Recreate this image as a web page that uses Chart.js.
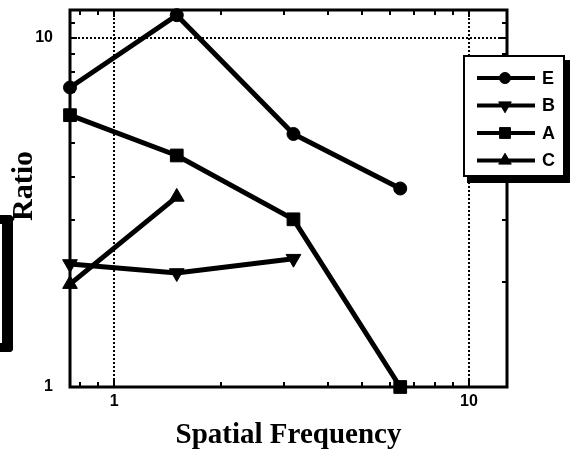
<!DOCTYPE html>
<html>
<head>
<meta charset="utf-8">
<script src="https://cdn.jsdelivr.net/npm/chart.js@4.4.0/dist/chart.umd.min.js"></script>
<style>
  html, body { margin: 0; padding: 0; background: #fff; }
  #wrap { position: relative; width: 572px; height: 453px; }
  /* black bracket mark on the left edge of the scan */
  #scanMark {
    position: absolute; left: 0; top: 215px; width: 2px; height: 119px;
    border: solid #000; border-width: 9px 11px 9px 0; border-radius: 0 4px 4px 0;
  }
</style>
</head>
<body>
<div id="wrap">
  <canvas id="ratioChart" width="572" height="453"></canvas>
  <div id="scanMark"></div>
</div>
<script>
// data (log-log axes)
const frequencies = [0.75, 1.5, 3.2, 6.4];
const seriesE = [7.2, 11.6, 5.3, 3.7];
const seriesB = [2.25, 2.12, 2.33, null];
const seriesA = [6.0, 4.6, 3.02, 1.0];
const seriesC = [1.97, 3.5, null, null];

const xLabelTicks = [1, 10];
const yLabelTicks = [1, 10];
const xMinorTicks = [0.8, 0.9, 1, 2, 3, 4, 5, 6, 7, 8, 9, 10];
const yMinorTicks = [2, 3, 4, 5, 6, 7, 8, 9, 10, 11];
const xGridLines = [1, 10];
const yGridLines = [10];

function toPoints(values) {
    const pts = [];
    values.forEach((v, i) => { if (v !== null) pts.push({ x: frequencies[i], y: v }); });
    return pts;
}

function makeSet(label, values, pointStyle, radius, rotation) {
    return {
        label: label,
        data: toPoints(values),
        borderColor: '#000',
        backgroundColor: '#000',
        borderWidth: 5,
        pointStyle: pointStyle,
        pointRadius: radius,
        pointRotation: rotation || 0,
        pointBorderWidth: 1,
        tension: 0,
        clip: false
    };
}

// frame, inward ticks and dotted grid lines
const framePlugin = {
    id: 'frame',
    beforeDatasetsDraw(chart) {
        const { ctx, chartArea: a, scales: { x, y } } = chart;
        ctx.save();
        ctx.strokeStyle = '#000';
        ctx.lineWidth = 2;
        ctx.setLineDash([2, 2]);
        ctx.beginPath();
        xGridLines.forEach(v => {
            const px = Math.round(x.getPixelForValue(v));
            ctx.moveTo(px, a.top); ctx.lineTo(px, a.bottom);
        });
        yGridLines.forEach(v => {
            const py = Math.round(y.getPixelForValue(v));
            ctx.moveTo(a.left, py); ctx.lineTo(a.right, py);
        });
        ctx.stroke();
        ctx.setLineDash([]);

        ctx.beginPath();
        xMinorTicks.forEach(v => {
            const px = Math.round(x.getPixelForValue(v));
            const len = xLabelTicks.includes(v) ? 7 : 5;
            ctx.moveTo(px, a.bottom); ctx.lineTo(px, a.bottom - len);
            ctx.moveTo(px, a.top); ctx.lineTo(px, a.top + len);
        });
        yMinorTicks.forEach(v => {
            const py = Math.round(y.getPixelForValue(v));
            const len = yLabelTicks.includes(v) ? 7 : 5;
            ctx.moveTo(a.left, py); ctx.lineTo(a.left + len, py);
            ctx.moveTo(a.right, py); ctx.lineTo(a.right - len, py);
        });
        ctx.stroke();

        ctx.lineWidth = 3;
        ctx.strokeRect(a.left, a.top, a.width, a.height);
        ctx.restore();
    }
};

// boxed legend with drop shadow, and the rotated y title
const legendPlugin = {
    id: 'boxLegend',
    afterDraw(chart) {
        const ctx = chart.ctx;
        ctx.save();
        ctx.fillStyle = '#000';
        ctx.fillRect(467, 60, 103, 123);
        ctx.fillStyle = '#fff';
        ctx.fillRect(463, 55, 102, 122);
        ctx.strokeStyle = '#000';
        ctx.lineWidth = 2;
        ctx.strokeRect(464, 56, 100, 120);

        ctx.font = 'bold 18px "Liberation Sans", Arial, sans-serif';
        ctx.textBaseline = 'middle';
        ctx.textAlign = 'left';
        chart.data.datasets.forEach((ds, i) => {
            const yy = 78 + i * 27.5;
            ctx.strokeStyle = '#000';
            ctx.lineWidth = 4;
            ctx.beginPath();
            ctx.moveTo(477, yy); ctx.lineTo(535, yy);
            ctx.stroke();
            ctx.fillStyle = '#000';
            ctx.lineWidth = 1;
            Chart.helpers.drawPoint(ctx, {
                pointStyle: ds.pointStyle,
                radius: ds.pointRadius * 0.85,
                rotation: ds.pointRotation,
                borderWidth: 1
            }, 505, yy);
            ctx.fillStyle = '#000';
            ctx.fillText(ds.label, 542, yy + 1);
        });

        ctx.translate(24, 186);
        ctx.rotate(-Math.PI / 2);
        ctx.font = 'bold 30px "Liberation Serif", "Times New Roman", serif';
        ctx.textAlign = 'center';
        ctx.textBaseline = 'middle';
        ctx.fillStyle = '#000';
        ctx.fillText('Ratio', 0, 0);
        ctx.restore();
    }
};

const tickFont = { family: '"Liberation Sans", Arial, sans-serif', size: 16, weight: 'bold' };

const ctx = document.getElementById('ratioChart').getContext('2d');
new Chart(ctx, {
    type: 'line',
    data: {
        datasets: [
            makeSet('E', seriesE, 'circle', 6.5),
            makeSet('B', seriesB, 'triangle', 8.5, 180),
            makeSet('A', seriesA, 'rect', 9),
            makeSet('C', seriesC, 'triangle', 8.5)
        ]
    },
    options: {
        responsive: false,
        devicePixelRatio: 1,
        animation: false,
        events: [],
        layout: { padding: { top: 10, right: 65, left: 0, bottom: 0 } },
        plugins: { legend: { display: false }, tooltip: { enabled: false } },
        scales: {
            x: {
                type: 'logarithmic',
                min: 0.75,
                max: 12.8,
                grid: { display: false, drawTicks: false },
                border: { display: false },
                afterFit: (scale) => {
                    scale.height = 66;
                    scale.paddingLeft = 0;
                    scale.paddingRight = 0;
                },
                ticks: {
                    autoSkip: false,
                    maxRotation: 0,
                    padding: 5,
                    color: '#000',
                    font: tickFont,
                    callback: (value) => xLabelTicks.includes(value) ? String(value) : ''
                },
                title: {
                    display: true,
                    text: 'Spatial Frequency',
                    color: '#000',
                    padding: { top: 0, bottom: 0 },
                    font: { family: '"Liberation Serif", "Times New Roman", serif', size: 29, weight: 'bold', lineHeight: 1.2 }
                }
            },
            y: {
                type: 'logarithmic',
                min: 1,
                max: 12,
                grid: { display: false, drawTicks: false },
                border: { display: false },
                afterFit: (scale) => {
                    scale.width = 70;
                    scale.paddingTop = 0;
                    scale.paddingBottom = 0;
                },
                ticks: {
                    autoSkip: false,
                    padding: 17,
                    color: '#000',
                    font: tickFont,
                    callback: (value) => yLabelTicks.includes(value) ? String(value) : ''
                }
            }
        }
    },
    plugins: [framePlugin, legendPlugin]
});
</script>
</body>
</html>
